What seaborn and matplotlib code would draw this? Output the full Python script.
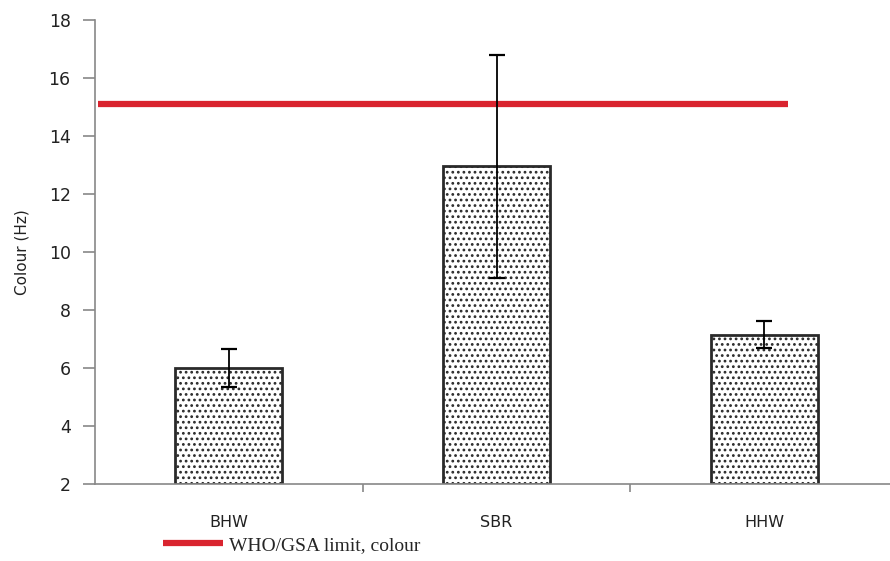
import matplotlib
matplotlib.use("Agg")
import matplotlib.pyplot as plt
import seaborn as sns
import pandas as pd

# values
sites = ["BHW", "SBR", "HHW"]
colour_mean = [6.0, 12.95, 7.15]
colour_err = [0.65, 3.85, 0.47]
limit_value = 15.1
limit_label = "WHO/GSA limit, colour"

sns.set_style("white")
plt.rcParams["font.family"] = ["DejaVu Sans"]
plt.rcParams["hatch.color"] = "#333333"
plt.rcParams["hatch.linewidth"] = 1.2

fig = plt.figure(figsize=(8.9, 5.61), dpi=100)
ax = fig.add_axes([95 / 890, 1 - 484 / 561, 1 - 95 / 890, (484 - 20) / 561])

df = pd.DataFrame({"site": sites, "colour": colour_mean})
sns.barplot(data=df, x="site", y="colour", ax=ax, width=0.4, color="white",
            edgecolor="#2a2a2a", linewidth=2, hatch="...")
# bars start at the axis floor (2), not at 0
for p, v in zip(ax.patches, colour_mean):
    p.set_y(2)
    p.set_height(v - 2)

ax.errorbar(range(len(sites)), colour_mean, yerr=colour_err, fmt="none",
            ecolor="black", elinewidth=1.3, capsize=6, capthick=1.6, zorder=5)

# limit line (drawn as a series, like the original spreadsheet)
ax.plot([-0.49, 2.09], [limit_value, limit_value], color="#d9242f", lw=4.5,
        solid_capstyle="butt", label=limit_label, zorder=4)

ax.set_xlim(-0.5, 2.47)
ax.set_ylim(2, 18)
ax.set_yticks(range(2, 19, 2))
ax.set_xlabel("")
ax.set_ylabel("Colour (Hz)", fontsize=11, color="#222222", labelpad=14)

for s in ["top", "right"]:
    ax.spines[s].set_visible(False)
for s in ["left", "bottom"]:
    ax.spines[s].set_color("#888888")
    ax.spines[s].set_linewidth(1.2)

ax.tick_params(axis="y", left=True, length=8.5, width=1.2, color="#888888",
               labelsize=12.5, labelcolor="#222222", pad=9)
ax.tick_params(axis="x", which="major", bottom=False, labelsize=11.5,
               labelcolor="#222222", pad=19)
ax.set_xticks([0.5, 1.5], minor=True)
ax.tick_params(axis="x", which="minor", bottom=True, length=6, width=1.2,
               color="#888888")

leg = fig.legend(loc="lower left", bbox_to_anchor=(151 / 890, -0.008), frameon=False,
                 handlelength=3.1, handletextpad=0.3, borderaxespad=0.2,
                 prop={"family": "Liberation Serif", "size": 14})

fig.savefig("out.png", dpi=100)
